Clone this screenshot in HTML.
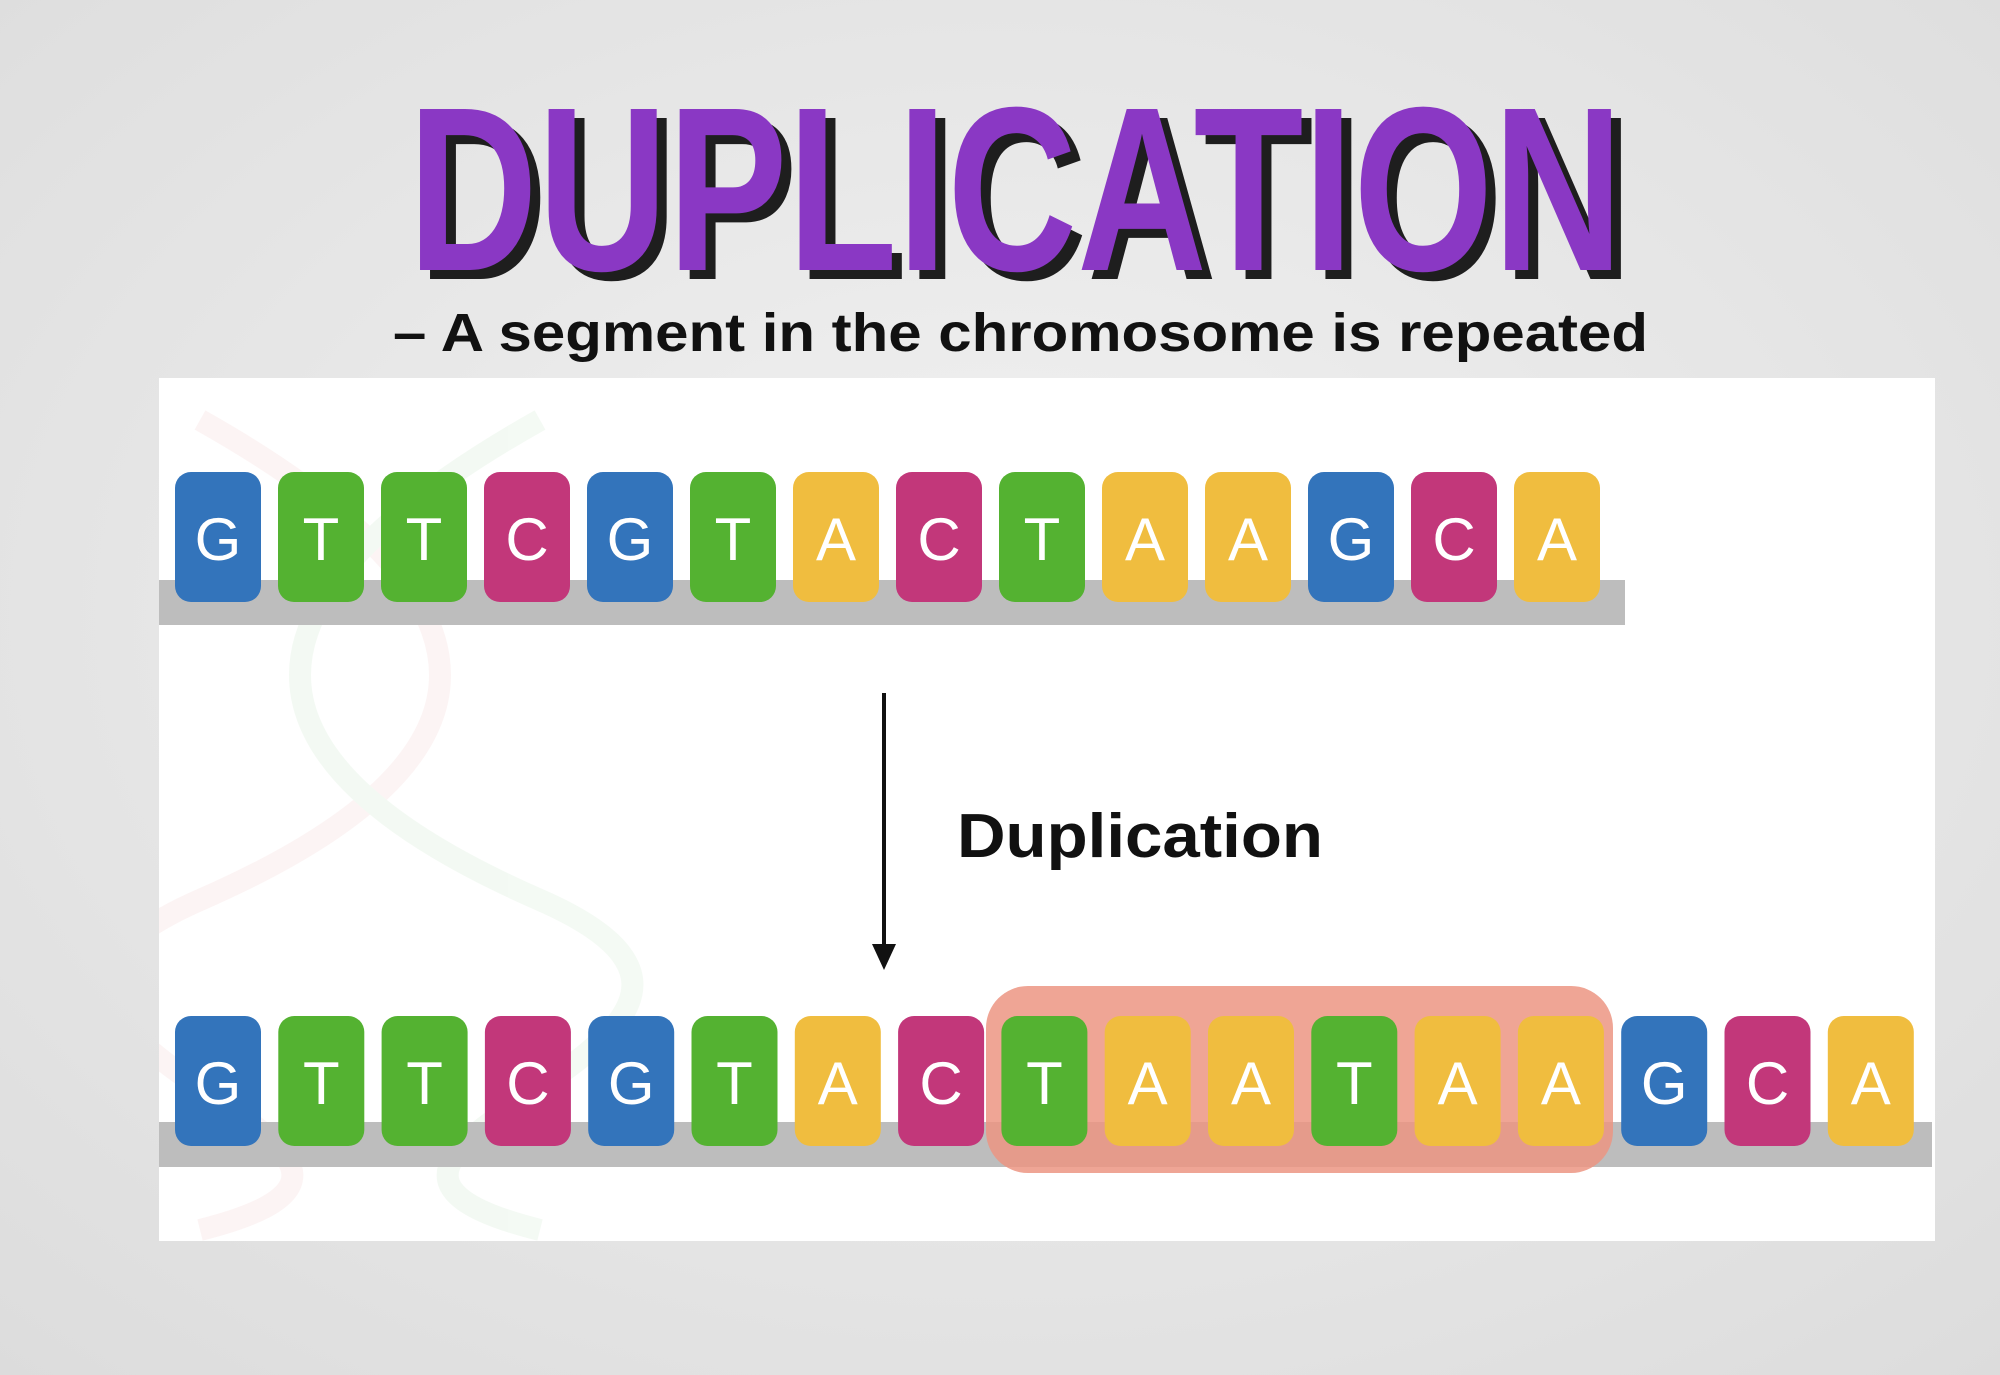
<!DOCTYPE html>
<html><head><meta charset="utf-8"><style>
html,body{margin:0;padding:0;background:#e9e9e9}
svg{display:block}
</style></head><body>
<svg id="s" width="2000" height="1375" viewBox="0 0 2000 1375" xmlns="http://www.w3.org/2000/svg">
<defs>
<radialGradient id="bg" cx="50%" cy="45%" r="75%"><stop offset="0" stop-color="#f2f2f2"/><stop offset="1" stop-color="#dcdcdc"/></radialGradient>
<clipPath id="pc"><rect x="159" y="378" width="1776" height="863"/></clipPath>
</defs>
<rect width="2000" height="1375" fill="url(#bg)"/>
<g font-family="Liberation Sans, sans-serif" font-weight="bold">
<g transform="translate(418,279) scale(1,1.3)"><text x="0" y="0" font-size="180" textLength="1215" lengthAdjust="spacingAndGlyphs" fill="#1e1e1e">DUPLICATION</text></g>
<g transform="translate(408,270) scale(1,1.3)"><text x="0" y="0" font-size="180" textLength="1215" lengthAdjust="spacingAndGlyphs" fill="#8a38c4">DUPLICATION</text></g>
</g>
<text x="393" y="351" font-family="Liberation Sans, sans-serif" font-weight="bold" font-size="54" textLength="1255" lengthAdjust="spacingAndGlyphs" fill="#111">– A segment in the chromosome is repeated</text>
<rect x="159" y="378" width="1776" height="863" fill="#ffffff"/>
<g opacity="0.1" fill="none" stroke-width="22" clip-path="url(#pc)">
<path d="M200 420 C 520 600, 520 760, 200 900 S 520 1150, 200 1230" stroke="#e9a0a0"/>
<path d="M540 420 C 220 600, 220 760, 540 900 S 220 1150, 540 1230" stroke="#8fcf8f"/>
</g>
<rect x="159" y="580" width="1466" height="45" fill="#bdbdbd"/>
<rect x="159" y="1122" width="1773" height="45" fill="#bdbdbd"/>
<rect x="986" y="986" width="627" height="187" rx="42" fill="#ec9583" opacity="0.85"/>
<g id="top"></g>
<g id="bot"></g>
<line x1="884" y1="693" x2="884" y2="950" stroke="#111" stroke-width="4"/>
<polygon points="872,944 896,944 884,970" fill="#111"/>
<text x="957" y="857" font-family="Liberation Sans, sans-serif" font-weight="bold" font-size="62" textLength="366" lengthAdjust="spacingAndGlyphs" fill="#111">Duplication</text>
</svg>
<script>
const topSeq = ['G','T','T','C','G','T','A','C','T','A','A','G','C','A'];
const bottomSeq = ['G','T','T','C','G','T','A','C','T','A','A','T','A','A','G','C','A'];
const colors = {G:'#3374bb',T:'#54b231',C:'#c2377a',A:'#f0bd3f'};
const NS='http://www.w3.org/2000/svg';
function draw(g, seq, y0, pitch){
  seq.forEach((b,i)=>{
    const x = 175 + i*pitch;
    const r=document.createElementNS(NS,'rect');
    r.setAttribute('x',x);r.setAttribute('y',y0);r.setAttribute('width',86);r.setAttribute('height',130);
    r.setAttribute('rx',16);r.setAttribute('fill',colors[b]);
    
    
    g.appendChild(r);
    const t=document.createElementNS(NS,'text');
    t.setAttribute('x',x+43);t.setAttribute('y',y0+88);t.setAttribute('text-anchor','middle');
    t.setAttribute('font-family','Liberation Sans, sans-serif');t.setAttribute('font-size','60');t.setAttribute('fill','#fff');
    t.textContent=b;
    
    
    g.appendChild(t);
  });
}
draw(document.getElementById('top'), topSeq, 472, 103);
draw(document.getElementById('bot'), bottomSeq, 1016, 103.3);
</script>
</body></html>
